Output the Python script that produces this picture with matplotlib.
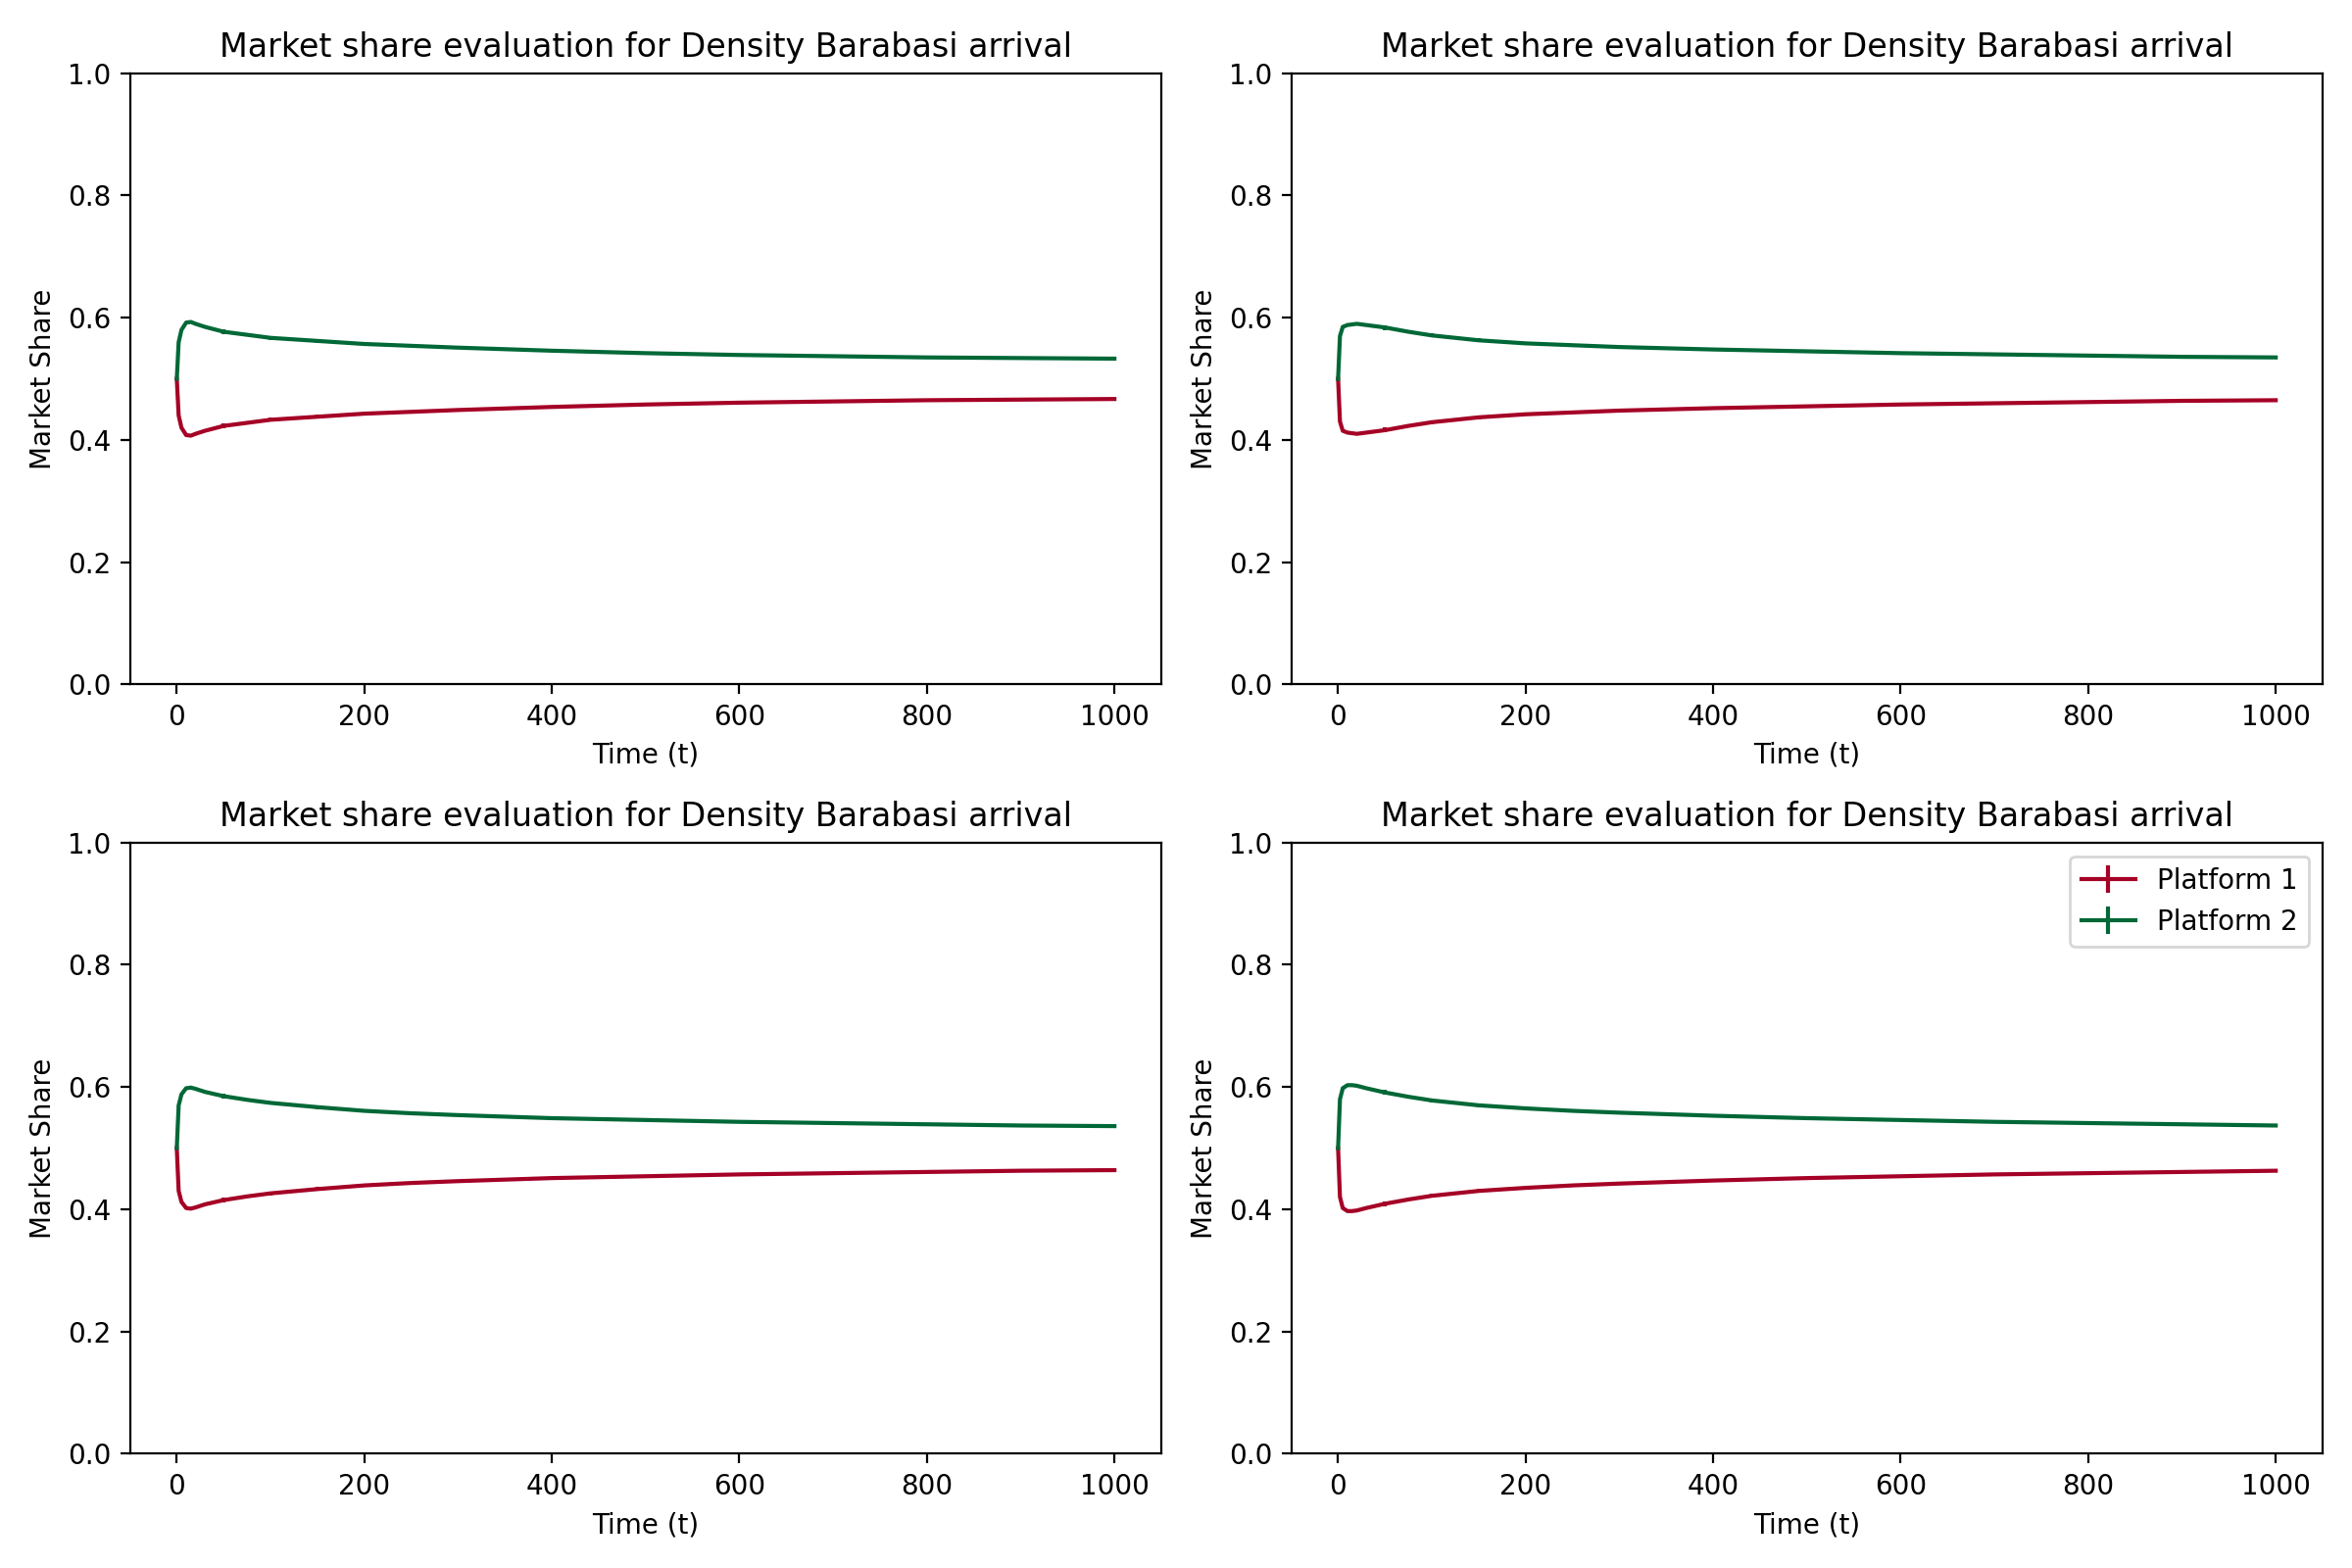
import numpy as np
import matplotlib.pyplot as plt

t = [0, 2, 5, 10, 15, 20, 30, 50, 75, 100, 150, 200, 250, 300, 400, 500, 600, 700, 800, 900, 1000]

# Platform 2 share per panel (platform 1 is the complement)
p2_a = [0.50, 0.56, 0.58, 0.592, 0.593, 0.590, 0.585, 0.577, 0.572, 0.567, 0.562, 0.557, 0.554, 0.551, 0.546, 0.542, 0.539, 0.537, 0.535, 0.534, 0.533]
p2_b = [0.50, 0.57, 0.585, 0.588, 0.589, 0.590, 0.588, 0.584, 0.577, 0.571, 0.563, 0.558, 0.555, 0.552, 0.548, 0.545, 0.542, 0.540, 0.538, 0.536, 0.535]
p2_c = [0.50, 0.57, 0.588, 0.598, 0.599, 0.597, 0.592, 0.585, 0.579, 0.574, 0.567, 0.561, 0.557, 0.554, 0.549, 0.546, 0.543, 0.541, 0.539, 0.537, 0.536]
p2_d = [0.50, 0.58, 0.598, 0.603, 0.603, 0.602, 0.598, 0.591, 0.584, 0.578, 0.570, 0.565, 0.561, 0.558, 0.553, 0.549, 0.546, 0.543, 0.541, 0.539, 0.537]

# small error at t = 50, 100, 150, 200, 250
err = [0, 0, 0, 0, 0, 0, 0, 0.004, 0, 0.003, 0.003, 0.002, 0.002, 0, 0, 0, 0, 0, 0, 0, 0]

red = '#a50026'
green = '#006837'

fig, axes = plt.subplots(2, 2, figsize=(12, 8))
for ax, p2 in zip(axes.flat, [p2_a, p2_b, p2_c, p2_d]):
    p2 = np.array(p2)
    p1 = 1 - p2
    ax.errorbar(t, p1, yerr=err, color=red, label='Platform 1', lw=1.5, elinewidth=1.5)
    ax.errorbar(t, p2, yerr=err, color=green, label='Platform 2', lw=1.5, elinewidth=1.5)
    ax.set_ylim(0, 1)
    ax.set_xlim(-50, 1050)
    ax.set_title('Market share evaluation for Density Barabasi arrival')
    ax.set_xlabel('Time (t)')
    ax.set_ylabel('Market Share')
axes[1, 1].legend(loc='upper right')
plt.tight_layout()
plt.savefig('out.png', dpi=200)
